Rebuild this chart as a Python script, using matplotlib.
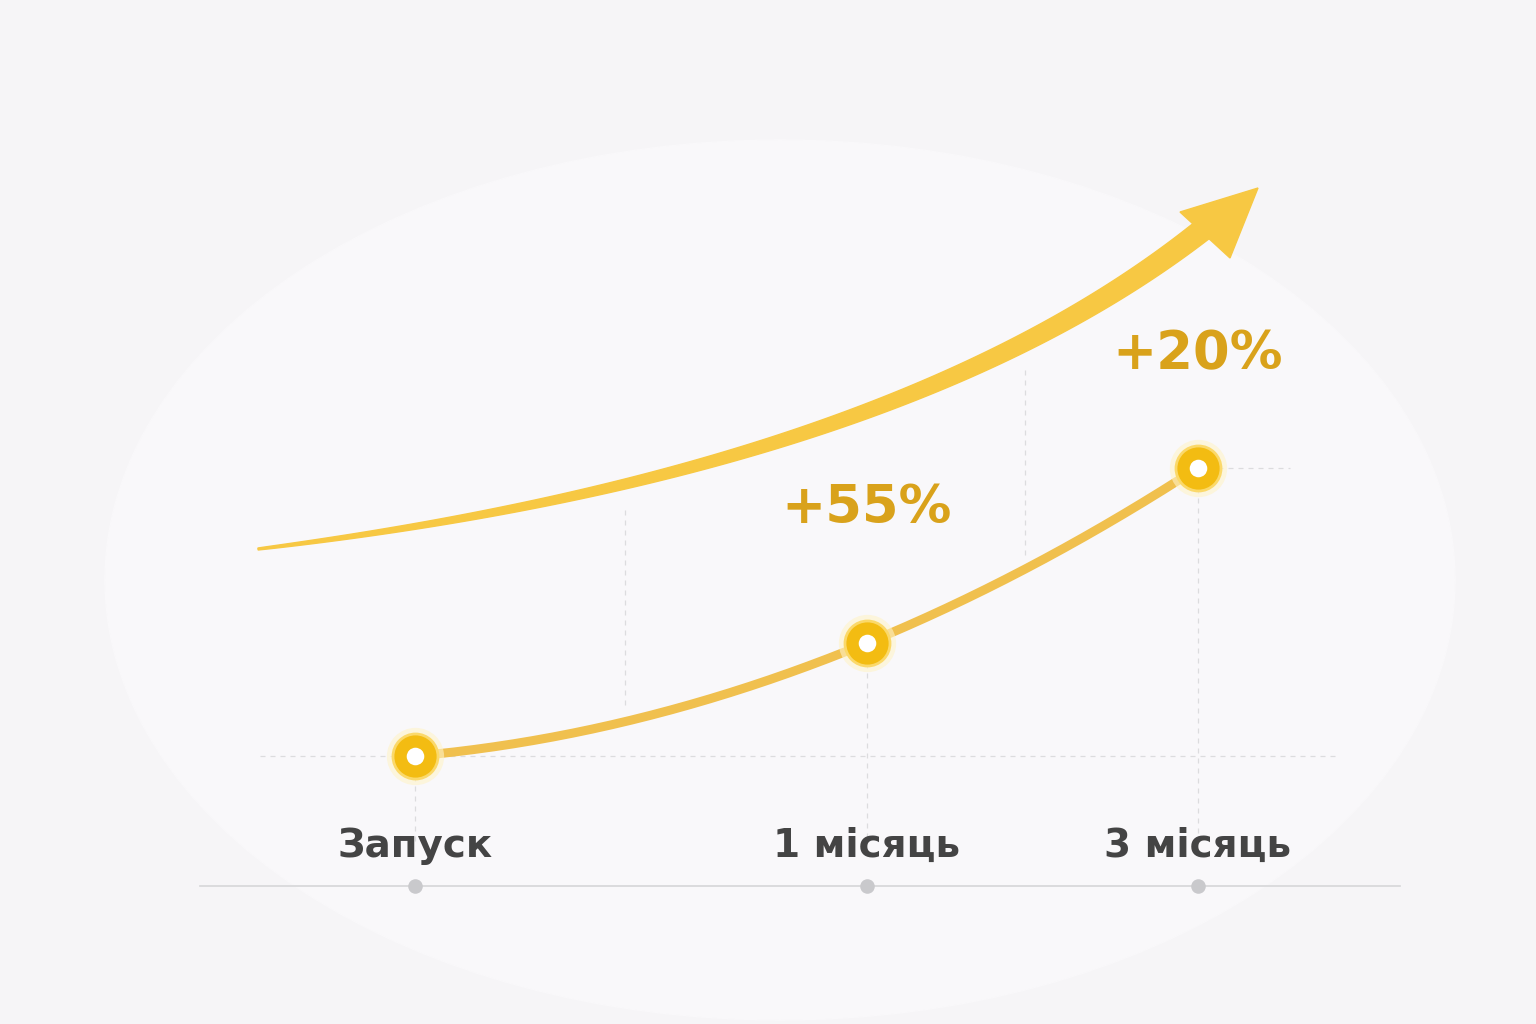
import numpy as np
import matplotlib
matplotlib.use("Agg")
import matplotlib.pyplot as plt
from matplotlib.patches import Polygon, Ellipse

# data
months = [0, 1, 3]
levels = [0.0, 1.0, 2.55]          # relative height of the curve at each point
tick_labels = ["Запуск", "1 місяць", "3 місяць"]
growth_labels = ["+55%", "+20%"]

W, H = 1536, 1024
GOLD = "#D9A21B"
LINE = "#F0C04E"

fig = plt.figure(figsize=(W / 100, H / 100), dpi=100)
fig.patch.set_facecolor("#F6F5F7")

# decoration layer in pixel coordinates
deco = fig.add_axes([0, 0, 1, 1])
deco.set_xlim(0, W); deco.set_ylim(H, 0); deco.axis("off")
deco.add_patch(Ellipse((780, 580), 1350, 880, color="#F9F8FA", zorder=0))

# grid / baseline
dash = dict(color="#DCDCDE", lw=0.9, ls=(0, (4, 4)), zorder=1)
deco.plot([625, 625], [510, 710], **dash)
deco.plot([1025, 1025], [370, 555], **dash)
deco.plot([200, 1400], [886, 886], color="#D6D6D8", lw=1.2, zorder=1)

# big sweeping arrow (tapered bezier)
t = np.linspace(0, 1, 200)
P0, P1, P2 = np.array([258, 549]), np.array([900, 470]), np.array([1205, 228])
c = ((1 - t) ** 2)[:, None] * P0 + (2 * (1 - t) * t)[:, None] * P1 + (t ** 2)[:, None] * P2
d = np.gradient(c, axis=0)
n = np.stack([-d[:, 1], d[:, 0]], axis=1)
n /= np.linalg.norm(n, axis=1)[:, None]
w = 1 + 10 * t ** 0.8
poly = np.vstack([c + n * w[:, None], (c - n * w[:, None])[::-1]])
deco.add_patch(Polygon(poly, closed=True, color="#F7C843", zorder=2))
deco.add_patch(Polygon([[1258, 188], [1180, 212], [1230, 258]], closed=True,
                       color="#F7C843", zorder=2))

# data axes: sqrt-like x scale, linear level scale
ax = fig.add_axes([0, 0, 1, 1], facecolor="none")
fwd = lambda x: np.sign(x) * np.sqrt(np.abs(x))
inv = lambda x: np.sign(x) * x ** 2
ax.set_xscale("function", functions=(fwd, inv))
ax.set_xlim(-(415 / 452) ** 2, ((W - 415) / 452) ** 2)
ax.set_ylim(-(H - 756) / 113, 756 / 113)
ax.axis("off")

for m, lv in zip(months, levels):
    ax.plot([m, m], [lv, -0.75], **dash)
ax.plot([-(155 / 452) ** 2, ((1340 - 415) / 452) ** 2], [0, 0], **dash)
ax.plot([months[-1], ((1290 - 415) / 452) ** 2], [levels[-1]] * 2, **dash)

# smooth curve through points in sqrt space
sx = fwd(np.array(months, float))
coef = np.polyfit(sx, levels, 2)
xs = np.linspace(sx[0], sx[-1], 200)
ax.plot(inv(xs), np.polyval(coef, xs), color=LINE, lw=6.5, solid_capstyle="round", zorder=3)

ax.scatter(months, levels, s=1700, color="#FFF3C8", alpha=0.6, zorder=4, lw=0)
ax.scatter(months, levels, s=1050, color="#F3BC12", edgecolor="#FBD96A", lw=2, zorder=5)
ax.scatter(months, levels, s=160, color="white", zorder=6, lw=0)

base_y = -(886 - 756) / 113
ax.scatter(months, [base_y] * 3, s=110, color="#C9C9CC", zorder=4, lw=0)
for m, lab in zip(months, tick_labels):
    ax.text(m, -(846 - 756) / 113, lab, ha="center", va="center", fontsize=28,
            fontweight="bold", color="#444444", family="DejaVu Sans")

ax.text(1.0, (756 - 508) / 113, growth_labels[0], ha="center", va="center",
        fontsize=38, fontweight="bold", color=GOLD, family="DejaVu Sans")
ax.text(3.0, (756 - 354) / 113, growth_labels[1], ha="center", va="center",
        fontsize=38, fontweight="bold", color=GOLD, family="DejaVu Sans")

fig.savefig("out.png", dpi=100)
